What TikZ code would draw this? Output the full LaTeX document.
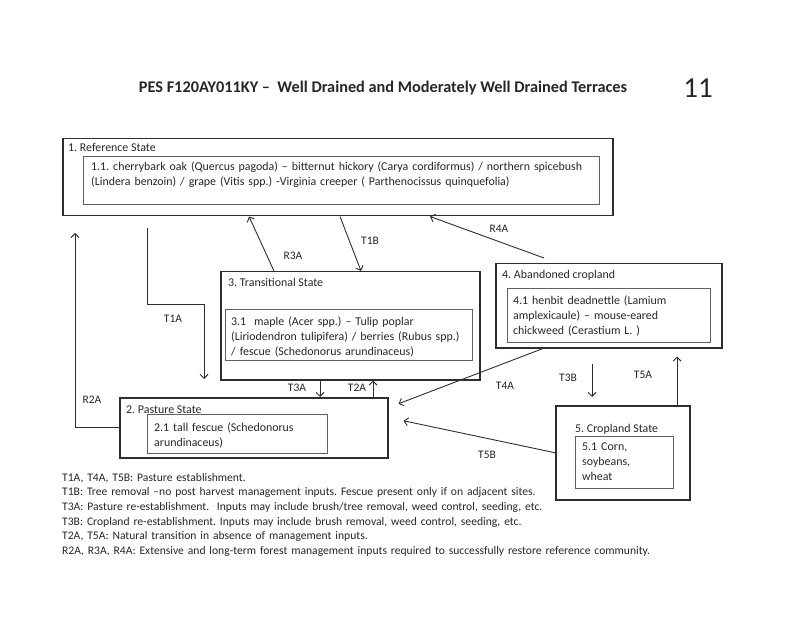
\documentclass[tikz,border=0pt]{standalone}
\usepackage{fontspec}
\setmainfont{Carlito}
\usetikzlibrary{arrows.meta,positioning}
\definecolor{ink}{gray}{0.15}
\definecolor{frame}{gray}{0.18}
\definecolor{inframe}{gray}{0.38}
\frenchspacing
\tikzset{
  >={Straight Barb[length=4pt,width=8pt]},
  statebox/.style={draw=frame,line width=1.5pt,anchor=north west,inner sep=0pt},
  phasebox/.style={draw=inframe,line width=0.9pt,anchor=north west,inner sep=0pt},
  boxtext/.style={anchor=north west,align=left,inner sep=0pt,text=ink,
    font=\fontsize{11.9}{14.6}\selectfont},
  statename/.style={anchor=base west,inner sep=0pt,text=ink,font=\fontsize{11.9}{13}\selectfont},
  trlabel/.style={inner sep=0pt,text=ink,font=\fontsize{11.5}{13}\selectfont},
  trans/.style={->,draw=frame,line width=0.9pt}
}

\begin{document}
\begin{tikzpicture}[x=1pt,y=-1pt]
  \useasboundingbox (0,0) rectangle (800,617);
  \node[anchor=base,inner sep=0pt,text=ink,font=\fontsize{16.3}{18}\selectfont\bfseries] (title) at (383,92.5)
    {PES F120AY011KY --\ \ Well Drained and Moderately Well Drained Terraces};
  \node[anchor=base,inner sep=0pt,text=ink,font=\fontsize{29}{30}\selectfont] (pageno) at (698,98) {11};

  \node[statebox,minimum width=550pt,minimum height=77pt] (ref) at (62,138) {};
  \node[phasebox,minimum width=516pt,minimum height=48pt] (refin) at (83,156) {};
  \node[statename] (refname) at (68,152) {1. Reference State};
  \node[boxtext,text width=520pt] (reftext) at (91,162)
    {1.1. cherrybark oak (Quercus pagoda) -- bitternut hickory (Carya cordiformus) / northern spicebush\\
     (Lindera benzoin) / grape (Vitis spp.) -Virginia creeper ( Parthenocissus quinquefolia)};

  \node[statebox,minimum width=259pt,minimum height=108pt] (transit) at (220,271) {};
  \node[phasebox,minimum width=247pt,minimum height=51pt] (transin) at (225,309) {};
  \node[statename] (transname) at (228,287) {3. Transitional State};
  \node[boxtext,text width=250pt] (transtext) at (231,317)
    {3.1\ \ maple (Acer spp.) -- Tulip poplar\\
     (Liriodendron tulipifera) / berries (Rubus spp.)\\
     / fescue (Schedonorus arundinaceus)};

  \node[statebox,minimum width=226pt,minimum height=84pt] (aband) at (495,263) {};
  \node[phasebox,minimum width=203pt,minimum height=54pt] (abandin) at (507,288) {};
  \node[statename] (abandname) at (502,279) {4. Abandoned cropland};
  \node[boxtext,text width=200pt] (abandtext) at (513,296)
    {4.1 henbit deadnettle (Lamium\\
     amplexicaule) -- mouse-eared\\
     chickweed (Cerastium L. )};

  \node[statebox,minimum width=268pt,minimum height=60pt] (pasture) at (119,397) {};
  \node[phasebox,minimum width=180pt,minimum height=39pt] (pasin) at (147,414) {};
  \node[statename] (pasname) at (126,413) {2. Pasture State};
  \node[boxtext,text width=175pt] (pastext) at (154,423)
    {2.1 tall fescue (Schedonorus\\
     arundinaceus)};

  \node[statebox,minimum width=134pt,minimum height=94pt] (crop) at (555,405) {};
  \node[phasebox,minimum width=98pt,minimum height=52pt] (cropin) at (575,436) {};
  \node[statename] (cropname) at (575,432) {5. Cropland State};
  \node[boxtext,text width=95pt] (croptext) at (582,443)
    {5.1 Corn,\\
     soybeans,\\
     wheat};

  \coordinate (t1a-s) at (147,228);
  \coordinate (t1a-k) at (204,304);
  \coordinate (t1a-e) at (204,379);
  \coordinate (r2a-e) at (75,233);
  \draw[trans] (t1a-s) |- (t1a-k) -- (t1a-e);
  \draw[trans] (pasture.west) -| (r2a-e);
  \draw[trans] ([xshift=54pt]transit.north west) -- ([xshift=187pt]ref.south west);
  \draw[trans] ([xshift=278pt]ref.south west) -- ([xshift=141pt]transit.north west);
  \draw[trans] ([xshift=49pt,yshift=5pt]aband.north west) -- ([xshift=368pt]ref.south west);
  \draw[trans] ([xshift=100pt]transit.south west) -- ([xshift=201pt]pasture.north west);
  \draw[trans] ([xshift=254pt]pasture.north west) -- ([xshift=153pt]transit.south west);
  \draw[trans] ([xshift=48pt]aband.south west) -- ([xshift=10pt,yshift=24pt]pasture.east);
  \draw[trans] (crop.west) -- ([xshift=15pt,yshift=7pt]pasture.east);
  \draw[trans] ([xshift=97pt,yshift=-15pt]aband.south west) -- ([xshift=37pt,yshift=8pt]crop.north west);
  \draw[trans] ([xshift=122pt]crop.north west) -- ([xshift=182pt,yshift=-8pt]aband.south west);

  \node[trlabel] (r3a) at (293,256) {R3A};
  \node[trlabel] (t1b) at (370,241) {T1B};
  \node[trlabel] (r4a) at (499,229) {R4A};
  \node[trlabel] (t1a) at (173,319) {T1A};
  \node[trlabel] (r2a) at (92,400) {R2A};
  \node[trlabel] (t3a) at (297,388) {T3A};
  \node[trlabel] (t2a) at (357,388) {T2A};
  \node[trlabel] (t4a) at (505,386) {T4A};
  \node[trlabel] (t5b) at (487,455) {T5B};
  \node[trlabel] (t3b) at (568,378) {T3B};
  \node[trlabel] (t5a) at (643,375) {T5A};

  \node[boxtext,text width=720pt,font=\fontsize{11.6}{14.6}\selectfont] (legend) at (62,473)
    {T1A, T4A, T5B: Pasture establishment.\\
     T1B: Tree removal --no post harvest management inputs. Fescue present only if on adjacent sites.\\
     T3A: Pasture re-establishment.\ \ Inputs may include brush/tree removal, weed control, seeding, etc.\\
     T3B: Cropland re-establishment. Inputs may include brush removal, weed control, seeding, etc.\\
     T2A, T5A: Natural transition in absence of management inputs.\\
     R2A, R3A, R4A: Extensive and long-term forest management inputs required to successfully restore reference community.};
\end{tikzpicture}
\end{document}
